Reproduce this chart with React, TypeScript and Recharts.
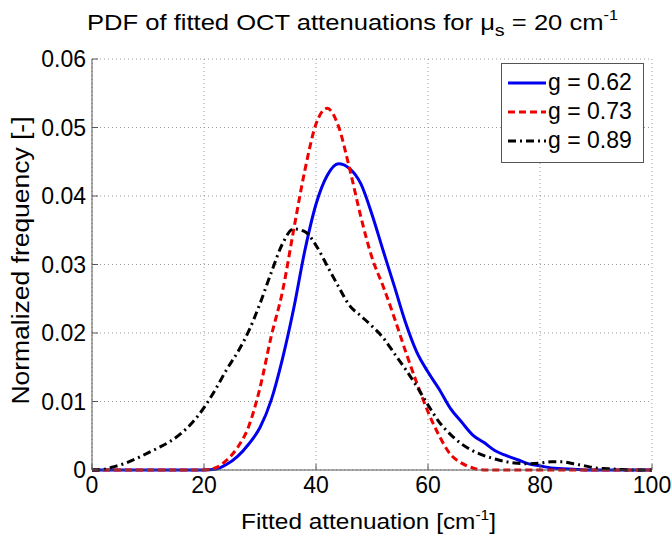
import { LineChart, Line, XAxis, YAxis, CartesianGrid } from 'recharts';

// fitted attenuation [cm^-1]
const attenuation = [
  0, 2, 4, 6, 8, 10, 12, 14, 16, 18, 20, 22, 24, 26, 28, 30, 32, 34, 36, 38, 40, 42, 44, 46, 48, 50,
  52, 54, 56, 58, 60, 62, 64, 66, 68, 70, 72, 74, 76, 78, 80, 82, 84, 86, 88, 90, 92, 94, 96, 98, 100,
];

// g = 0.62
const g062 = [
  0, 0, 0, 0, 0, 0, 0, 0, 0, 0, 0, 0.0001, 0.0008, 0.002, 0.0038, 0.0062, 0.0102, 0.0162, 0.0235,
  0.032, 0.0388, 0.043, 0.0447, 0.044, 0.0418, 0.0373, 0.032, 0.0268, 0.0215, 0.0172, 0.0143,
  0.0118, 0.009, 0.007, 0.0051, 0.004, 0.0028, 0.0021, 0.0015, 0.0009, 0.0006, 0.0003, 0.0002,
  0.0001, 0, 0, 0, 0, 0, 0, 0,
];

// g = 0.73
const g073 = [
  0, 0, 0, 0, 0, 0, 0, 0, 0, 0, 0, 0.0003, 0.0014, 0.0033, 0.0064, 0.012, 0.0195, 0.026, 0.035,
  0.0437, 0.0505, 0.0528, 0.0502, 0.044, 0.037, 0.031, 0.0268, 0.0222, 0.0173, 0.0127, 0.0085,
  0.005, 0.0023, 0.001, 0.0003, 0, 0, 0, 0, 0, 0, 0, 0, 0, 0, 0, 0, 0, 0, 0, 0,
];

// g = 0.89
const g089 = [
  0, 0.0001, 0.0005, 0.001, 0.0017, 0.0025, 0.0033, 0.0042, 0.0054, 0.007, 0.0091, 0.0117, 0.0146,
  0.0172, 0.0203, 0.0243, 0.0288, 0.033, 0.0352, 0.0348, 0.0328, 0.0298, 0.0268, 0.024, 0.0225,
  0.021, 0.0193, 0.017, 0.0147, 0.0122, 0.0095, 0.007, 0.0052, 0.0038, 0.0028, 0.0021, 0.0016,
  0.0012, 0.001, 0.0009, 0.001, 0.0012, 0.0012, 0.0009, 0.0006, 0.0003, 0.0002, 0.0001, 0, 0, 0,
];

const xTicks = [0, 20, 40, 60, 80, 100];
const yTicks = [0, 0.01, 0.02, 0.03, 0.04, 0.05, 0.06];

const series = [
  { key: 'g062', name: 'g = 0.62', color: '#0000ee', dash: undefined },
  { key: 'g073', name: 'g = 0.73', color: '#ee0000', dash: '7 4' },
  { key: 'g089', name: 'g = 0.89', color: '#000000', dash: '8 4 2 4' },
];

const FONT = '"Liberation Sans", Arial, sans-serif';
const AXIS = '#555';

const data = attenuation.map((x, i) => ({ x, g062: g062[i], g073: g073[i], g089: g089[i] }));

function XLabel() {
  return (
    <text
      x={241}
      y={529}
      textLength={255}
      lengthAdjust="spacingAndGlyphs"
      fontSize={22}
      fontFamily={FONT}
      fill="#000"
    >
      Fitted attenuation [cm
      <tspan dy={-9} fontSize={14}>-1</tspan>
      <tspan dy={9}>]</tspan>
    </text>
  );
}

function YLabel({ viewBox }: any) {
  const cy = viewBox.y + viewBox.height / 2 - 4;
  return (
    <text
      x={29}
      y={cy}
      transform={`rotate(-90, 29, ${cy})`}
      textAnchor="middle"
      textLength={288}
      lengthAdjust="spacingAndGlyphs"
      fontSize={23}
      fontFamily={FONT}
      fill="#000"
    >
      Normalized frequency [-]
    </text>
  );
}

export default function App() {
  return (
    <div style={{ position: 'relative', width: 671, height: 539, background: '#fff', fontFamily: FONT }}>
      <style>{'body{margin:0}'}</style>
      <svg width={671} height={48} style={{ position: 'absolute', left: 0, top: 0 }}>
        <text x={87} y={30} textLength={531} lengthAdjust="spacingAndGlyphs" fontSize={22} fontFamily={FONT} fill="#000">
          PDF of fitted OCT attenuations for μ
          <tspan dy={6} fontSize={17}>s</tspan>
          <tspan dy={-6}> = 20 cm</tspan>
          <tspan dy={-10} fontSize={14}>-1</tspan>
        </text>
      </svg>

      <LineChart width={671} height={539} data={data} margin={{ top: 59, right: 19, bottom: 0, left: 0 }}>
        <CartesianGrid stroke="#9a9a9a" strokeDasharray="1 3" />
        <XAxis
          dataKey="x"
          type="number"
          domain={[0, 100]}
          ticks={xTicks}
          height={69}
          stroke={AXIS}
          tickSize={-6}
          tickMargin={13}
          tick={{ fill: '#000', fontSize: 23, fontFamily: FONT }}
          label={<XLabel />}
        />
        <XAxis
          xAxisId="top"
          orientation="top"
          dataKey="x"
          type="number"
          domain={[0, 100]}
          ticks={xTicks}
          height={0}
          stroke={AXIS}
          tickSize={-6}
          tick={false}
        />
        <YAxis
          type="number"
          domain={[0, 0.06]}
          ticks={yTicks}
          width={92}
          stroke={AXIS}
          tickSize={-6}
          tickMargin={12}
          tickFormatter={(v: number) => (v === 0 ? '0' : v.toFixed(2))}
          tick={{ fill: '#000', fontSize: 23, fontFamily: FONT }}
          label={<YLabel />}
        />
        <YAxis
          yAxisId="right"
          orientation="right"
          type="number"
          domain={[0, 0.06]}
          ticks={yTicks}
          width={0}
          stroke={AXIS}
          tickSize={-6}
          tick={false}
        />
        {series.map((s) => (
          <Line
            key={s.key}
            type="monotone"
            dataKey={s.key}
            name={s.name}
            stroke={s.color}
            strokeWidth={3}
            strokeDasharray={s.dash}
            dot={false}
            activeDot={false}
            isAnimationActive={false}
          />
        ))}
      </LineChart>

      <div
        style={{
          position: 'absolute',
          left: 501,
          top: 63,
          width: 141,
          height: 94,
          border: `1px solid ${AXIS}`,
          background: '#fff',
          paddingTop: 4,
          boxSizing: 'content-box',
        }}
      >
        {series.map((s) => (
          <div key={s.key} style={{ display: 'flex', alignItems: 'center', height: 29, fontSize: 23 }}>
            <svg width={46} height={10} style={{ marginLeft: 6 }}>
              <line x1={0} y1={5} x2={38} y2={5} stroke={s.color} strokeWidth={3} strokeDasharray={s.dash} />
            </svg>
            <span style={{ marginLeft: -6 }}>{s.name}</span>
          </div>
        ))}
      </div>
    </div>
  );
}
